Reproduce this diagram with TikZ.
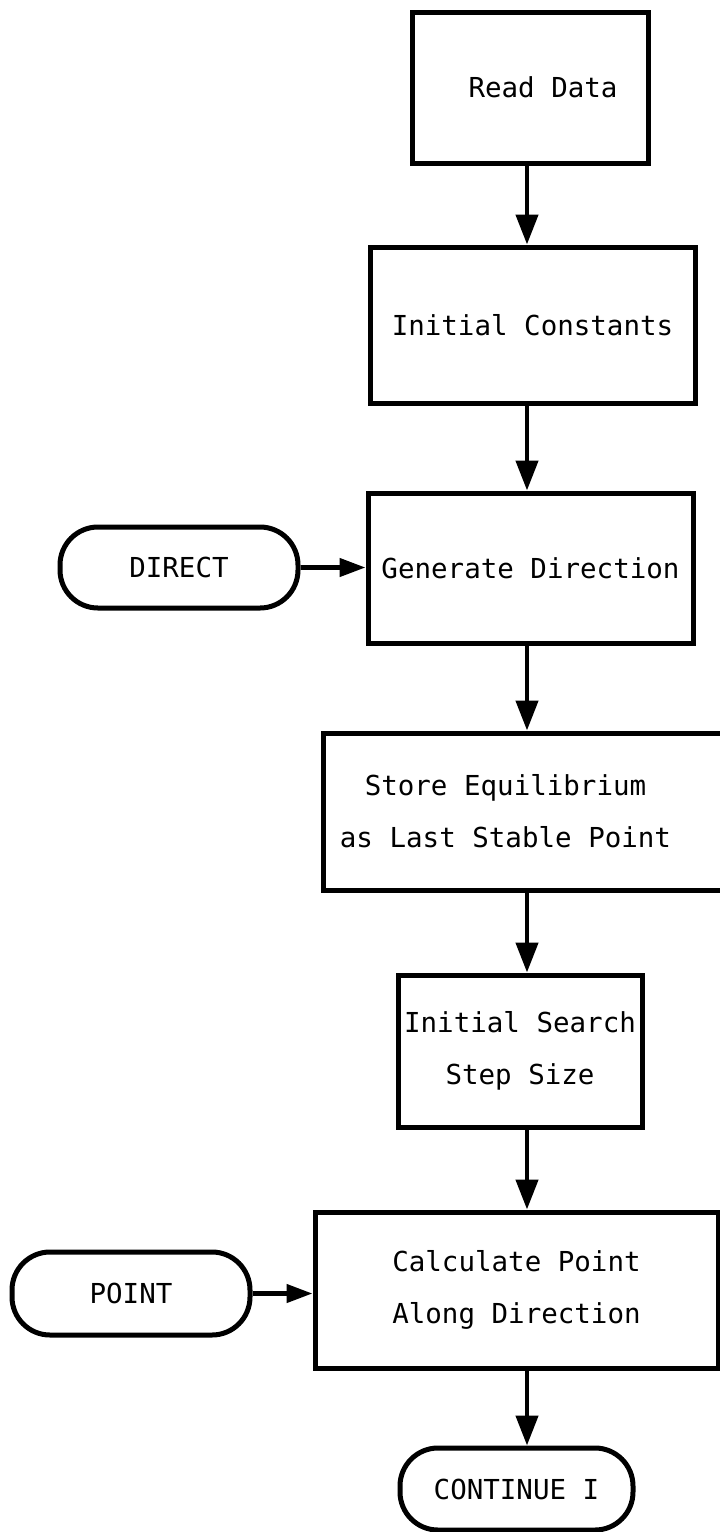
\documentclass[tikz,border=0pt]{standalone}
\usepackage{fontspec}
\setmonofont{DejaVu Sans Mono}
\usetikzlibrary{arrows.meta}
\begin{document}
\begin{tikzpicture}[x=1pt,y=-1pt,
  every node/.style={font=\ttfamily\fontsize{27.5}{52}\selectfont},
  box/.style={draw, line width=5pt, rectangle, inner sep=0pt, align=center},
  term/.style={draw, line width=5pt, rectangle, rounded corners=38pt, inner sep=0pt},
  flow/.style={line width=4.5pt, -{Triangle[length=30pt,width=22pt]}},
  feed/.style={line width=4.5pt, -{Triangle[length=26pt,width=18pt]}}]

% page frame
\fill[white] (0,0) rectangle (720,1532);
\useasboundingbox (0,0) rectangle (720,1532);

% main column of process boxes
\node[box, minimum width=236pt, minimum height=151pt] (read) at (530,87.5) {\hspace*{26pt}Read Data};
\node[box, minimum width=325pt, minimum height=156pt] (const) at (532.5,325) {Initial Constants};
\node[box, minimum width=325pt, minimum height=150pt] (gen) at (530.5,568) {Generate Direction};
\node[box, minimum width=399pt, minimum height=157pt] (store) at (522.5,811.5)
  {\hspace*{-34pt}Store Equilibrium\\\hspace*{-34pt}as Last Stable Point};
\node[box, minimum width=244pt, minimum height=152pt] (search) at (520,1051) {Initial Search\\Step Size};
\node[box, minimum width=403pt, minimum height=156pt] (calc) at (516.5,1290) {Calculate Point\\Along Direction};

% entry and exit terminals
\node[term, minimum width=238pt, minimum height=81pt] (direct) at (179,567.5) {DIRECT};
\node[term, minimum width=238pt, minimum height=83pt] (point) at (131,1293.5) {POINT};
\node[term, minimum width=233pt, minimum height=82pt] (cont) at (516.5,1489) {CONTINUE I};

% vertical flow line
\coordinate (spine) at (527,0);
\draw[flow] (spine |- read.south)   -- (spine |- const.north);
\draw[flow] (spine |- const.south)  -- (spine |- gen.north);
\draw[flow] (spine |- gen.south)    -- (spine |- store.north);
\draw[flow] (spine |- store.south)  -- (spine |- search.north);
\draw[flow] (spine |- search.south) -- (spine |- calc.north);
\draw[flow] (spine |- calc.south)   -- (spine |- cont.north);

% side entries
\draw[feed] (direct.east) -- (direct.east -| gen.west);
\draw[feed] (point.east) -- (point.east -| calc.west);
\end{tikzpicture}
\end{document}
